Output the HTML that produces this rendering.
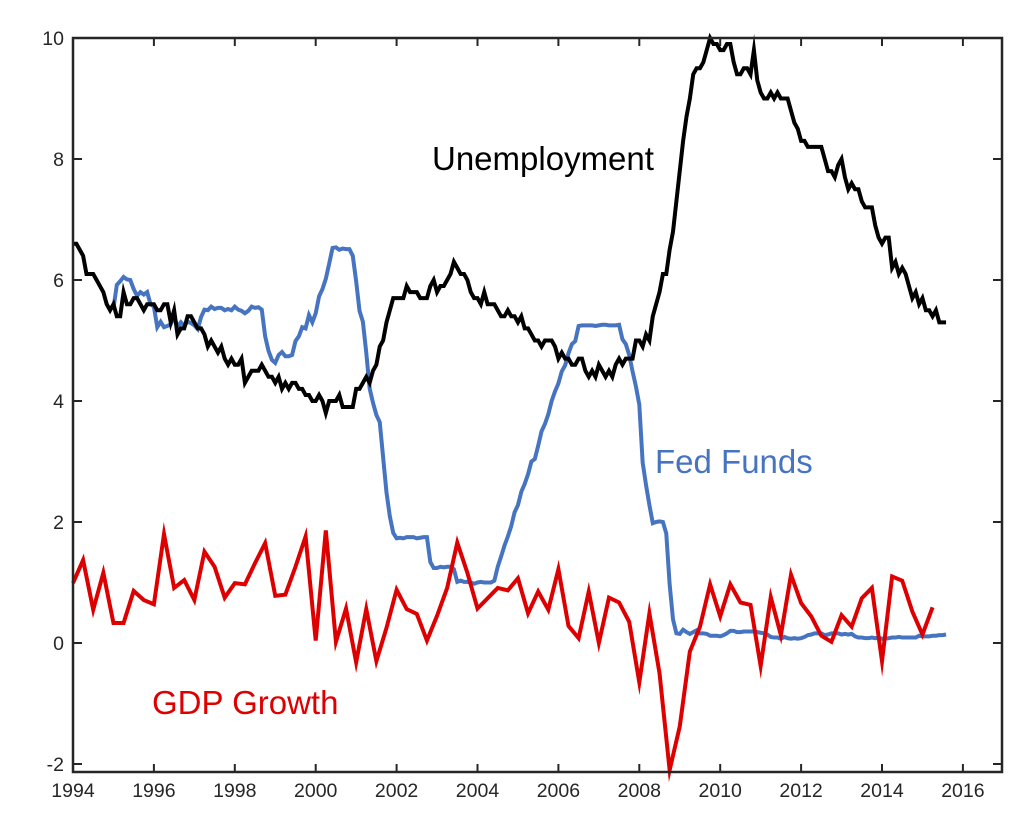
<!DOCTYPE html>
<html><head><meta charset="utf-8"><style>
body{margin:0;background:#fff;}
svg{display:block;font-family:"Liberation Sans",Arial,sans-serif;}
</style></head><body>
<svg id="chart" width="1028" height="817"></svg>
<script>
const unemployment=[
6.6,6.6,6.5,6.4,6.1,6.1,6.1,6.0,5.9,5.8,5.6,5.5,
5.6,5.4,5.4,5.8,5.6,5.6,5.7,5.7,5.6,5.5,5.6,5.6,
5.6,5.5,5.5,5.6,5.6,5.3,5.5,5.1,5.2,5.2,5.4,5.4,
5.3,5.2,5.2,5.1,4.9,5.0,4.9,4.8,4.9,4.7,4.6,4.7,
4.6,4.6,4.7,4.3,4.4,4.5,4.5,4.5,4.6,4.5,4.4,4.4,
4.3,4.4,4.2,4.3,4.2,4.3,4.3,4.2,4.2,4.1,4.1,4.0,
4.0,4.1,4.0,3.8,4.0,4.0,4.0,4.1,3.9,3.9,3.9,3.9,
4.2,4.2,4.3,4.4,4.3,4.5,4.6,4.9,5.0,5.3,5.5,5.7,
5.7,5.7,5.7,5.9,5.8,5.8,5.8,5.7,5.7,5.7,5.9,6.0,
5.8,5.9,5.9,6.0,6.1,6.3,6.2,6.1,6.1,6.0,5.8,5.7,
5.7,5.6,5.8,5.6,5.6,5.6,5.5,5.4,5.4,5.5,5.4,5.4,
5.3,5.4,5.2,5.2,5.1,5.0,5.0,4.9,5.0,5.0,5.0,4.9,
4.7,4.8,4.7,4.7,4.6,4.6,4.7,4.7,4.5,4.4,4.5,4.4,
4.6,4.5,4.4,4.5,4.4,4.6,4.7,4.6,4.7,4.7,4.7,5.0,
5.0,4.9,5.1,5.0,5.4,5.6,5.8,6.1,6.1,6.5,6.8,7.3,
7.8,8.3,8.7,9.0,9.4,9.5,9.5,9.6,9.8,10.0,9.9,9.9,
9.8,9.8,9.9,9.9,9.6,9.4,9.4,9.5,9.5,9.4,9.8,9.3,
9.1,9.0,9.0,9.1,9.0,9.1,9.0,9.0,9.0,8.8,8.6,8.5,
8.3,8.3,8.2,8.2,8.2,8.2,8.2,8.0,7.8,7.8,7.7,7.9,
8.0,7.7,7.5,7.6,7.5,7.5,7.3,7.2,7.2,7.2,6.9,6.7,
6.6,6.7,6.7,6.2,6.3,6.1,6.2,6.1,5.9,5.7,5.8,5.6,
5.7,5.5,5.5,5.4,5.5,5.3,5.3,5.3];
const unemploymentStart=1994;
const fedFunds=[
5.53,5.92,5.98,6.05,6.01,6.00,5.85,5.74,5.80,5.76,5.80,5.60,
5.56,5.22,5.31,5.22,5.24,5.27,5.40,5.22,5.30,5.24,5.31,5.29,
5.25,5.19,5.39,5.51,5.50,5.56,5.52,5.54,5.54,5.50,5.52,5.50,
5.56,5.51,5.49,5.45,5.49,5.56,5.54,5.55,5.51,5.07,4.83,4.68,
4.63,4.76,4.81,4.74,4.74,4.76,4.99,5.07,5.22,5.20,5.42,5.30,
5.45,5.73,5.85,6.02,6.27,6.53,6.54,6.50,6.52,6.51,6.51,6.40,
5.98,5.49,5.31,4.80,4.21,3.97,3.77,3.65,3.07,2.49,2.09,1.82,
1.73,1.74,1.73,1.75,1.75,1.75,1.73,1.74,1.75,1.75,1.34,1.24,
1.24,1.26,1.25,1.26,1.26,1.22,1.01,1.03,1.01,1.01,1.00,0.98,
1.00,1.01,1.00,1.00,1.00,1.03,1.26,1.43,1.61,1.76,1.93,2.16,
2.28,2.50,2.63,2.79,3.00,3.04,3.26,3.50,3.62,3.78,4.00,4.16,
4.29,4.49,4.59,4.79,4.94,4.99,5.24,5.25,5.25,5.25,5.25,5.24,
5.25,5.26,5.26,5.25,5.25,5.25,5.26,5.02,4.94,4.76,4.49,4.24,
3.94,2.98,2.61,2.28,1.98,2.00,2.01,2.00,1.81,0.97,0.39,0.16,
0.15,0.22,0.18,0.15,0.18,0.21,0.16,0.16,0.15,0.12,0.12,0.12,
0.11,0.13,0.16,0.20,0.20,0.18,0.18,0.19,0.19,0.19,0.19,0.18,
0.17,0.16,0.14,0.10,0.09,0.09,0.07,0.10,0.08,0.07,0.08,0.07,
0.08,0.10,0.13,0.14,0.16,0.16,0.16,0.13,0.14,0.16,0.16,0.16,
0.14,0.15,0.14,0.15,0.11,0.09,0.09,0.08,0.08,0.09,0.08,0.09,
0.07,0.07,0.08,0.09,0.09,0.10,0.09,0.09,0.09,0.09,0.09,0.12,
0.11,0.11,0.11,0.12,0.12,0.13,0.13,0.14];
const fedFundsStart=1995;
const gdpGrowth=[
0.99,1.37,0.55,1.16,0.33,0.33,0.86,0.71,0.64,1.80,0.91,1.04,0.71,1.51,1.26,0.75,
0.99,0.97,1.32,1.65,0.78,0.80,1.26,1.76,0.04,1.86,0.02,0.57,-0.32,0.56,-0.30,0.25,
0.88,0.56,0.48,0.04,0.45,0.91,1.66,1.16,0.57,0.74,0.91,0.87,1.07,0.49,0.85,0.55,
1.22,0.28,0.08,0.85,0.00,0.75,0.67,0.35,-0.65,0.49,-0.50,-2.10,-1.38,-0.14,0.27,0.97,
0.44,0.97,0.67,0.63,-0.38,0.76,0.13,1.13,0.66,0.44,0.12,0.02,0.46,0.27,0.74,0.91,
-0.30,1.10,1.03,0.52,0.14,0.59];
const gdpStart=1994;
const xTicks=[1994,1996,1998,2000,2002,2004,2006,2008,2010,2012,2014,2016];
const yTicks=[-2,0,2,4,6,8,10];

const L=73,R=1002,T=38,B=772;
const xMin=1994,xMax=2017;
const pxPerYear=40.45;
function xs(v){return L+(v-xMin)*pxPerYear;}
function ys(v){return 643-v*60.5;}
const NS='http://www.w3.org/2000/svg';
const svg=document.getElementById('chart');
function mk(t,a){const e=document.createElementNS(NS,t);for(const k in a)e.setAttribute(k,a[k]);svg.appendChild(e);return e;}

function series(vals,start,step,color,name){
  const d=vals.map((v,i)=>(i?'L':'M')+xs(start+i*step).toFixed(2)+','+ys(v).toFixed(2)).join(' ');
  const p=mk('path',{d:d,fill:'none',stroke:color,'stroke-width':4,'stroke-linejoin':'miter','stroke-miterlimit':10});
  
  
}
series(fedFunds,fedFundsStart,1/12,'#4674c1','fed-funds-line');
series(unemployment,unemploymentStart,1/12,'#000000','unemployment-line');
series(gdpGrowth,gdpStart,0.25,'#de0000','gdp-growth-line');

const box=mk('rect',{x:L,y:T,width:R-L,height:B-T,fill:'none',stroke:'#262626','stroke-width':2.5});



xTicks.forEach(t=>{
  const x=xs(t);
  const a=mk('line',{x1:x,x2:x,y1:B,y2:B-8,stroke:'#262626','stroke-width':2});
  
  
  const b=mk('line',{x1:x,x2:x,y1:T,y2:T+8,stroke:'#262626','stroke-width':2});
  
  
  const lb=mk('text',{x:x,y:B+25,'text-anchor':'middle','font-size':19.5,fill:'#262626'});
  lb.textContent=t;
  
  
});
yTicks.forEach(t=>{
  const y=ys(t);
  const a=mk('line',{x1:L,x2:L+9,y1:y,y2:y,stroke:'#262626','stroke-width':2});
  
  
  const b=mk('line',{x1:R,x2:R-9,y1:y,y2:y,stroke:'#262626','stroke-width':2});
  
  
  const lb=mk('text',{x:L-9,y:y+7,'text-anchor':'end','font-size':19.5,fill:'#262626'});
  lb.textContent=t;
  
  
});

function label(txt,x,y,color,name){
  const e=mk('text',{x:x,y:y,'font-size':33,fill:color});
  e.textContent=txt;
  
  
}
label('Unemployment',432,170,'#000000','unemployment-label');
label('Fed Funds',655,473,'#4674c1','fed-funds-label');
label('GDP Growth',152,714,'#de0000','gdp-growth-label');
</script>
</body></html>
